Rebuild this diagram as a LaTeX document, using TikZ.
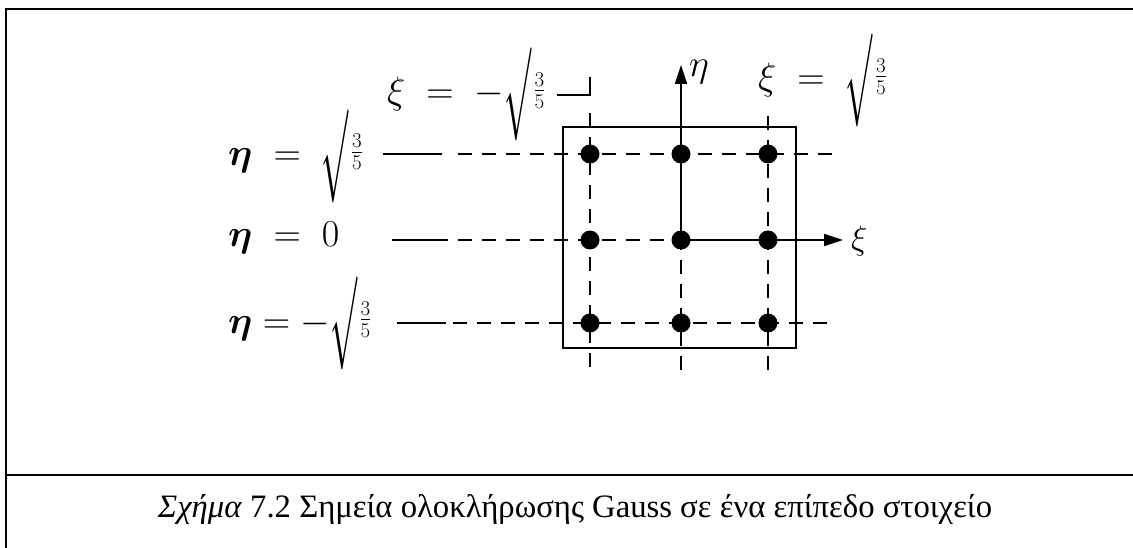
\RequirePackage{fix-cm}
\documentclass[tikz,border=0pt]{standalone}
\usepackage{amsmath}
\usepackage{fontspec}
\setmainfont{Liberation Serif}
\usetikzlibrary{arrows.meta}

% radical without overbar, as in the printed figure
\newcommand{\rootfrac}{\smash{\vcenter{\hbox{\scalebox{0.85}[2.45]{$\surd$}}}}\mkern1mu\smash{\raisebox{4pt}{$\vcenter{\hbox{\fontsize{30}{32}\selectfont$\frac{3}{5}$}}$}}}

\begin{document}
\begin{tikzpicture}[x=1pt, y=-1pt,
        frame/.style={line width=2.2pt},
        solidline/.style={line width=1.8pt},
        gridline/.style={line width=1.8pt, dash pattern=on 14pt off 10pt},
        axis/.style={line width=1.8pt, -{Triangle[length=19pt, width=12pt]}},
        gauss/.style={circle, fill=black, inner sep=0pt, minimum size=19pt},
        lbl/.style={anchor=base west, inner sep=0pt, font=\fontsize{38}{40}\selectfont}
    ]
        \useasboundingbox (0,0) rectangle (1133,548);

        % Frame
        \draw[frame] (1133,9) -- (6,9) -- (6,548);
        \draw[frame] (6,475) -- (1133,475);

        % Grid points
        \foreach \c/\x in {a/590, b/681, c/768}
            \foreach \r/\y in {1/154, 2/240, 3/323}
                \coordinate (\c\r) at (\x,\y);
        \coordinate (etatip) at (681,65);
        \coordinate (xitip) at (843,240);

        % Element
        \draw[solidline] (563,127) rectangle (796,348);

        % Labels
        \node[lbl] (ximinus) at (387,104) {$\xi\;=\;-\rootfrac$};
        \node[lbl] (xiplus) at (758,90) {$\xi\;=\;\rootfrac$};
        \node[lbl] (etaplus) at (228,165.5) {$\boldsymbol{\eta}\;=\;\rootfrac$};
        \node[lbl] (etazero) at (228,246.5) {$\boldsymbol{\eta}\;=\;0$};
        \node[lbl] (etaminus) at (228,333) {$\boldsymbol{\eta}=-\rootfrac$};

        % Rows
        \draw[solidline] (383,154) -- (442,154);
        \draw[gridline] (832,154) -- (458,154);
        \draw[solidline] (392,240) -- (448,240);
        \draw[gridline] (458,240) -- (b2);
        \draw[solidline] (397,323) -- (446,323);
        \draw[gridline] (827,323) -- (453,323);

        % Columns
        \draw[solidline] (557,95) -- (590,95) -- (590,77);
        \draw[gridline] (590,113) -- (590,370);
        \draw[gridline] (681,370) -- (b2);
        \draw[gridline] (768,370) -- (768,110);

        % Axes
        \draw[axis] (b2) -- (etatip);
        \draw[axis] (b2) -- (xitip);
        \node[lbl, font=\fontsize{38}{40}\selectfont] (etalabel) at (689,77) {$\eta$};
        \node[lbl, font=\fontsize{34}{36}\selectfont] (xilabel) at (851,250) {$\xi$};

        % Gauss points
        \foreach \p in {a1, a2, a3, b1, b2, b3, c1, c2, c3}
            \node[gauss] (pt-\p) at (\p) {};

        % Caption
        \node[anchor=base, inner sep=0pt, font=\fontsize{32.7}{38}\selectfont] (caption) at (575,517)
            {\textit{Σχήμα} 7.2 Σημεία ολοκλήρωσης Gauss σε ένα επίπεδο στοιχείο};
    \end{tikzpicture}
\end{document}
